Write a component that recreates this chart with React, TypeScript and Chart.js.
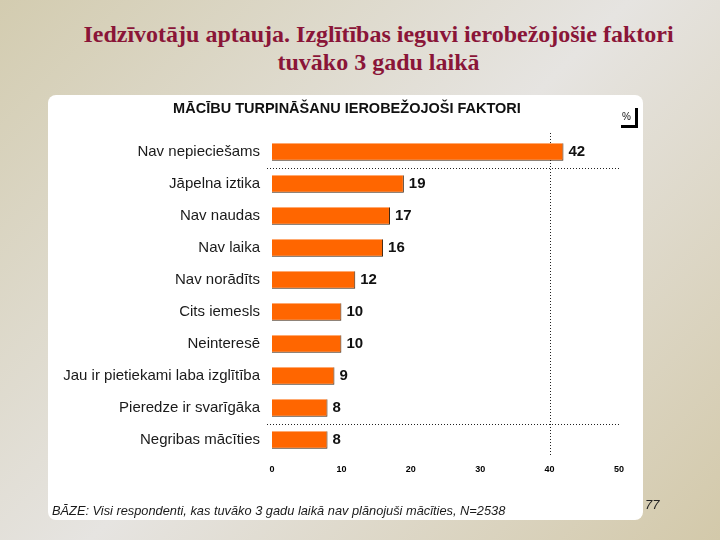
import React, { useEffect, useRef } from "react";
import { Chart, registerables } from "chart.js";

Chart.register(...registerables);

const categories = [
  "Nav nepieciešams",
  "Jāpelna iztika",
  "Nav naudas",
  "Nav laika",
  "Nav norādīts",
  "Cits iemesls",
  "Neinteresē",
  "Jau ir pietiekami laba izglītība",
  "Pieredze ir svarīgāka",
  "Negribas mācīties",
];
const values = [42, 19, 17, 16, 12, 10, 10, 9, 8, 8];
const xMin = 0;
const xMax = 50;
const xStep = 10;
const dividerAfter = [0, 8];
const refValue = 40;

const titleLine1 = "Iedzīvotāju aptauja. Izglītības ieguvi ierobežojošie faktori";
const titleLine2 = "tuvāko 3 gadu laikā";
const chartTitle = "MĀCĪBU TURPINĀŠANU IEROBEŽOJOŠI FAKTORI";
const unitLabel = "%";
const footer = "BĀZE: Visi respondenti, kas tuvāko 3 gadu laikā nav plānojuši mācīties, N=2538";
const pageNumber = "77";

const SANS = "'Liberation Sans', Arial, sans-serif";

const valueLabels = {
  id: "valueLabels",
  afterDatasetsDraw(chart: any) {
    const ctx = chart.ctx;
    const meta = chart.getDatasetMeta(0);
    ctx.save();
    ctx.font = `bold 15px ${SANS}`;
    ctx.fillStyle = "#111";
    ctx.textAlign = "left";
    ctx.textBaseline = "middle";
    meta.data.forEach((bar: any, i: number) => {
      ctx.fillText(String(values[i]), bar.x + 5, bar.y);
    });
    ctx.restore();
  },
};

const dottedLines = {
  id: "dottedLines",
  beforeDatasetsDraw(chart: any) {
    const ctx = chart.ctx;
    const xs = chart.scales.x;
    const ys = chart.scales.y;
    const area = chart.chartArea;
    ctx.save();
    ctx.strokeStyle = "#222";
    ctx.lineWidth = 1;
    ctx.setLineDash([1, 2]);
    dividerAfter.forEach((idx) => {
      const y = Math.round((ys.getPixelForValue(idx) + ys.getPixelForValue(idx + 1)) / 2) + 0.5;
      ctx.beginPath();
      ctx.moveTo(area.left - 5, y);
      ctx.lineTo(xs.getPixelForValue(xMax) + 1, y);
      ctx.stroke();
    });
    const x = Math.round(xs.getPixelForValue(refValue)) + 0.5;
    ctx.beginPath();
    ctx.moveTo(x, area.top - 3);
    ctx.lineTo(x, area.bottom);
    ctx.stroke();
    ctx.restore();
  },
};

function BarChart() {
  const ref = useRef<HTMLCanvasElement | null>(null);
  useEffect(() => {
    if (!ref.current) return;
    const chart = new Chart(ref.current, {
      type: "bar",
      data: {
        labels: categories,
        datasets: [
          {
            data: values,
            backgroundColor: "#FF6600",
            borderColor: "#3a2410",
            borderWidth: { top: 0, left: 0, right: 1, bottom: 1 },
            borderSkipped: false,
            barPercentage: 0.55,
            categoryPercentage: 1,
          },
        ],
      },
      options: {
        indexAxis: "y",
        animation: false,
        responsive: false,
        maintainAspectRatio: false,
        layout: { padding: { top: 41, right: 24, bottom: 44, left: 0 } },
        plugins: {
          legend: { display: false },
          tooltip: { enabled: false },
          title: { display: false },
        },
        scales: {
          x: {
            min: xMin,
            max: xMax,
            grid: { display: false, drawTicks: false },
            border: { display: false },
            ticks: {
              stepSize: xStep,
              padding: 8,
              color: "#000",
              font: { family: SANS, size: 9, weight: "bold" },
            },
            afterFit: (scale: any) => {
              scale.height = 20;
            },
          },
          y: {
            grid: { display: false, drawTicks: false },
            border: { display: false },
            ticks: {
              padding: 12,
              color: "#1a1a1a",
              font: { family: SANS, size: 15 },
            },
            afterFit: (scale: any) => {
              scale.width = 224;
            },
          },
        },
      },
      plugins: [dottedLines, valueLabels],
    } as any);
    return () => chart.destroy();
  }, []);
  return <canvas ref={ref} width={595} height={425} style={{ position: "absolute", left: 0, top: 0 }} />;
}

export default function App() {
  return (
    <div
      style={{
        position: "absolute",
        left: 0,
        top: 0,
        width: 720,
        height: 540,
        overflow: "hidden",
        background: "linear-gradient(135deg, #d3ccb0 0%, #e6e4e1 50%, #d3c9aa 100%)",
      }}
    >
      <div
        style={{
          position: "absolute",
          left: 0,
          top: 20,
          width: 757,
          textAlign: "center",
          fontFamily: "'Liberation Serif', 'Times New Roman', serif",
          fontWeight: "bold",
          fontSize: 24,
          lineHeight: "28px",
          color: "#8a1538",
        }}
      >
        <div>{titleLine1}</div>
        <div>{titleLine2}</div>
      </div>
      <div
        style={{
          position: "absolute",
          left: 48,
          top: 95,
          width: 595,
          height: 425,
          background: "#fff",
          borderRadius: 8,
          overflow: "hidden",
        }}
      >
        <BarChart />
        <div
          style={{
            position: "absolute",
            left: 0,
            top: 5,
            width: 598,
            textAlign: "center",
            fontFamily: SANS,
            fontWeight: "bold",
            fontSize: 14.5,
            color: "#111",
          }}
        >
          {chartTitle}
        </div>
        <div
          style={{
            position: "absolute",
            left: 573,
            top: 13,
            width: 14,
            height: 17,
            borderRight: "3px solid #000",
            borderBottom: "3px solid #000",
            fontFamily: SANS,
            fontSize: 10,
            color: "#111",
            textAlign: "left",
            lineHeight: "12px",
          }}
        >
          <span style={{ position: "absolute", left: 1, top: 3 }}>{unitLabel}</span>
        </div>
        <div
          style={{
            position: "absolute",
            left: 4,
            top: 408,
            fontFamily: SANS,
            fontStyle: "italic",
            fontSize: 12.8,
            color: "#1a1a1a",
            whiteSpace: "nowrap",
          }}
        >
          {footer}
        </div>
      </div>
      <div
        style={{
          position: "absolute",
          left: 645,
          top: 497,
          fontFamily: SANS,
          fontStyle: "italic",
          fontSize: 13,
          color: "#222",
        }}
      >
        {pageNumber}
      </div>
    </div>
  );
}
